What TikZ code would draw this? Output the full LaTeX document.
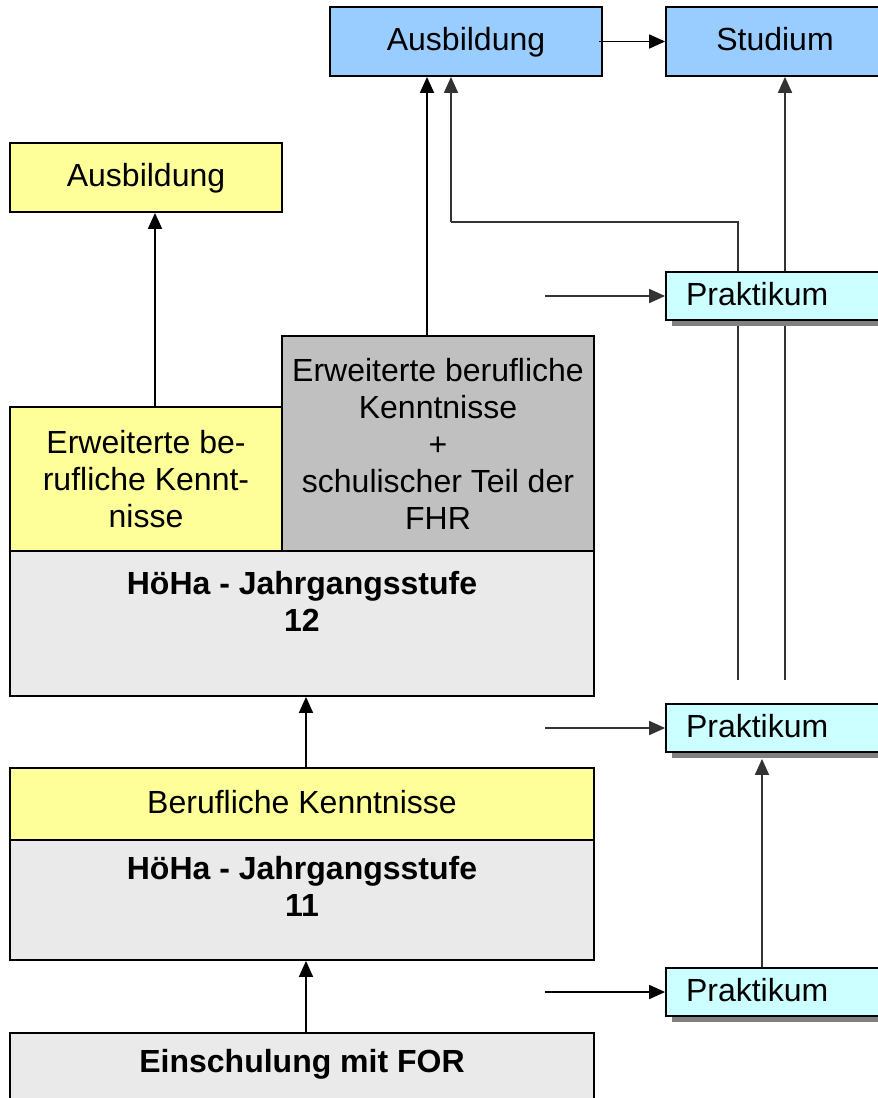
\documentclass[tikz,border=0pt]{standalone}
\usepackage{fontspec}
\setmainfont{Liberation Sans}
\usetikzlibrary{arrows.meta,shadows}
\definecolor{cblue}{HTML}{99CCFF}
\definecolor{cyel}{HTML}{FFFF99}
\definecolor{cgray}{HTML}{C0C0C0}
\definecolor{clight}{HTML}{EAEAEA}
\definecolor{ccyan}{HTML}{CCFFFF}
\definecolor{cdark}{HTML}{333333}
\pgfdeclarelayer{bg}
\pgfsetlayers{bg,main}
\newcommand{\fsz}{\fontsize{32}{37}\selectfont}
\tikzset{
  box/.style={draw=black, line width=1.8pt, inner sep=0pt, align=center, font=\fsz},
  single/.style={text height=24pt, text depth=6pt},
  txt/.style={inner sep=0pt, align=center, font=\fsz},
  prak/.style={box, single, fill=ccyan, minimum width=218pt, minimum height=48pt, text width=178pt, align=left,
    drop shadow={shadow xshift=6pt, shadow yshift=-6pt, fill=black!50, opacity=1}},
  arr/.style={line width=1.8pt, -{Triangle[length=16pt,width=14pt]}},
  darr/.style={arr, draw=cdark},
  dline/.style={line width=1.8pt, draw=cdark}
}
\begin{document}
\begin{tikzpicture}[x=1pt,y=-1pt]
\useasboundingbox (0,0) rectangle (878,1098);
% boxes
\node[box, single, fill=cblue, minimum width=272pt, minimum height=69pt] (a1) at (466,41.5) {Ausbildung};
\node[box, single, fill=cblue, minimum width=218pt, minimum height=69pt] (st) at (775,41.5) {Studium};
\node[box, single, fill=cyel, minimum width=272pt, minimum height=69pt] (la) at (146,177.5) {Ausbildung};
\node[box, fill=cgray, minimum width=312pt, minimum height=215pt] (gk) at (438,443.5)
  {Erweiterte berufliche\\Kenntnisse\\+\\schulischer Teil der\\FHR};
\node[box, fill=cyel, minimum width=272pt, minimum height=144pt] (ek) at (146,479)
  {Erweiterte be-\\rufliche Kennt-\\nisse};
\node[box, fill=clight, minimum width=584pt, minimum height=145pt] (h12) at (302,623.5) {};
\node[txt, font=\fsz\bfseries] (h12t) at (302,601) {HöHa - Jahrgangsstufe\\12};
\node[box, single, fill=cyel, minimum width=584pt, minimum height=72pt] (bk) at (302,804) {Berufliche Kenntnisse};
\node[box, fill=clight, minimum width=584pt, minimum height=120pt] (h11) at (302,900) {};
\node[txt, font=\fsz\bfseries] (h11t) at (302,886) {HöHa - Jahrgangsstufe\\11};
\node[box, fill=clight, minimum width=584pt, minimum height=72pt] (es) at (302,1069) {};
\node[txt, single, font=\fsz\bfseries] (est) at (302,1063) {Einschulung mit FOR};
\node[prak] (p1) at (775,296) {Praktikum};
\node[prak] (p2) at (775,728) {Praktikum};
\node[prak] (p3) at (775,992) {Praktikum};
% helper coordinates
\coordinate (s1) at (545,296);
\coordinate (s2) at (545,728);
\coordinate (s3) at (545,992);
\coordinate (f1) at (738,680);
\coordinate (f2) at (785,680);
\coordinate (k1) at (451,222);
\coordinate (c155) at (155,0);
\coordinate (c427) at (427,0);
\coordinate (c306) at (306,0);
\coordinate (c762) at (762,0);
% connectors
\begin{pgfonlayer}{bg}
\draw[dline] (f1) |- (k1);
\draw[darr] (k1) -- (k1 |- a1.south);
\draw[darr] (f2) -- (f2 |- st.south);
\end{pgfonlayer}
\draw[arr] ([xshift=-4pt]a1.east) -- (st.west);
\draw[arr] (c155 |- ek.north) -- (c155 |- la.south);
\draw[arr] (c427 |- gk.north) -- (c427 |- a1.south);
\draw[arr] (c306 |- bk.north) -- (c306 |- h12.south);
\draw[arr] (c306 |- es.north) -- (c306 |- h11.south);
\draw[darr] (s1) -- (p1.west);
\draw[darr] (s2) -- (p2.west);
\draw[arr] (s3) -- (p3.west);
\draw[darr] (c762 |- p3.north) -- ([yshift=-6pt]c762 |- p2.south);
\end{tikzpicture}
\end{document}
